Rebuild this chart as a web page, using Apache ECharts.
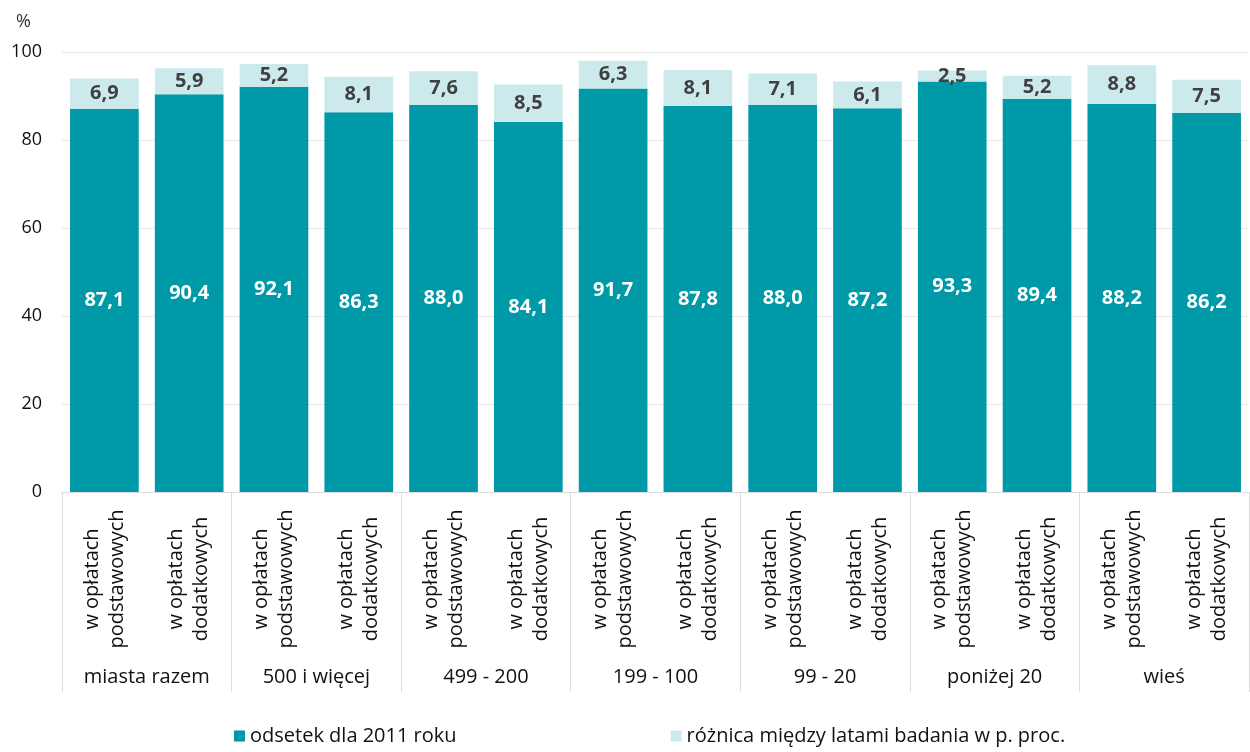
<!DOCTYPE html>
<html><head><meta charset="utf-8">
<script src="https://cdn.jsdelivr.net/npm/echarts@6/dist/echarts.min.js"></script>
<style>html,body{margin:0;padding:0;background:#fff}#c{width:1250px;height:752px}</style>
</head><body><div id="c"></div>
<script>
const subCategories = ['w opłatach\npodstawowych','w opłatach\ndodatkowych','w opłatach\npodstawowych','w opłatach\ndodatkowych','w opłatach\npodstawowych','w opłatach\ndodatkowych','w opłatach\npodstawowych','w opłatach\ndodatkowych','w opłatach\npodstawowych','w opłatach\ndodatkowych','w opłatach\npodstawowych','w opłatach\ndodatkowych','w opłatach\npodstawowych','w opłatach\ndodatkowych'];
const groups = ['miasta razem','500 i więcej','499 - 200','199 - 100','99 - 20','poniżej 20','wieś'];
const base2011 = [87.1, 90.4, 92.1, 86.3, 88.0, 84.1, 91.7, 87.8, 88.0, 87.2, 93.3, 89.4, 88.2, 86.2];
const diff = [6.9, 5.9, 5.2, 8.1, 7.6, 8.5, 6.3, 8.1, 7.1, 6.1, 2.5, 5.2, 8.8, 7.5];
const yTicks = [0, 20, 40, 60, 80, 100];
const seriesNames = ['odsetek dla 2011 roku', 'różnica między latami badania w p. proc.'];

const FONT = '"Open Sans", "Noto Sans", sans-serif';
const fmt = v => v.toFixed(1).replace('.', ',');
const chart = echarts.init(document.getElementById('c'), null, {renderer: 'canvas'});
chart.setOption({
  animation: false,
  textStyle: {fontFamily: FONT},
  title: {text: '%', left: 11, top: 8, textStyle: {fontSize: 18, fontWeight: 'normal', color: '#333', fontFamily: FONT}},
  legend: {
    data: seriesNames, left: 229, bottom: 1, itemWidth: 11, itemHeight: 11, itemGap: 214, icon: 'rect',
    textStyle: {fontSize: 20, color: '#111', fontFamily: FONT}
  },
  grid: {left: 62, right: 1, top: 52, bottom: 260},
  xAxis: [
    {
      type: 'category', data: subCategories,
      axisLine: {lineStyle: {color: '#dcdcdc', width: 1}},
      axisTick: {show: false},
      axisLabel: {rotate: 90, align: 'center', margin: 87, fontSize: 20, lineHeight: 25, color: '#111', interval: 0, fontFamily: FONT}
    },
    {
      type: 'category', data: groups, position: 'bottom', offset: 200,
      axisLine: {show: false},
      axisTick: {show: true, inside: true, length: 200, lineStyle: {color: '#dcdcdc'}},
      axisLabel: {inside: true, margin: 5, fontSize: 20, color: '#111', interval: 0, fontFamily: FONT}
    }
  ],
  yAxis: {
    type: 'value', min: 0, max: 100, interval: 20,
    axisLine: {show: false}, axisTick: {show: false},
    splitLine: {lineStyle: {color: '#e8e8e8', width: 1}},
    axisLabel: {margin: 20, fontSize: 18, color: '#111', fontFamily: FONT,
      formatter: v => yTicks.includes(v) ? String(v) : ''}
  },
  series: [
    {
      name: seriesNames[0], type: 'bar', stack: 's', xAxisIndex: 0, data: base2011,
      barCategoryGap: '19%',
      itemStyle: {color: '#0099a7'},
      label: {show: true, position: 'inside', color: '#fff', fontWeight: 'bold', fontSize: 20, fontFamily: FONT,
        formatter: p => fmt(p.value)}
    },
    {
      name: seriesNames[1], type: 'bar', stack: 's', xAxisIndex: 0, data: diff,
      itemStyle: {color: '#cceaec'},
      label: {show: true, position: 'inside', color: '#404040', fontWeight: 'bold', fontSize: 20, fontFamily: FONT,
        formatter: p => fmt(p.value)}
    }
  ]
});
</script></body></html>
